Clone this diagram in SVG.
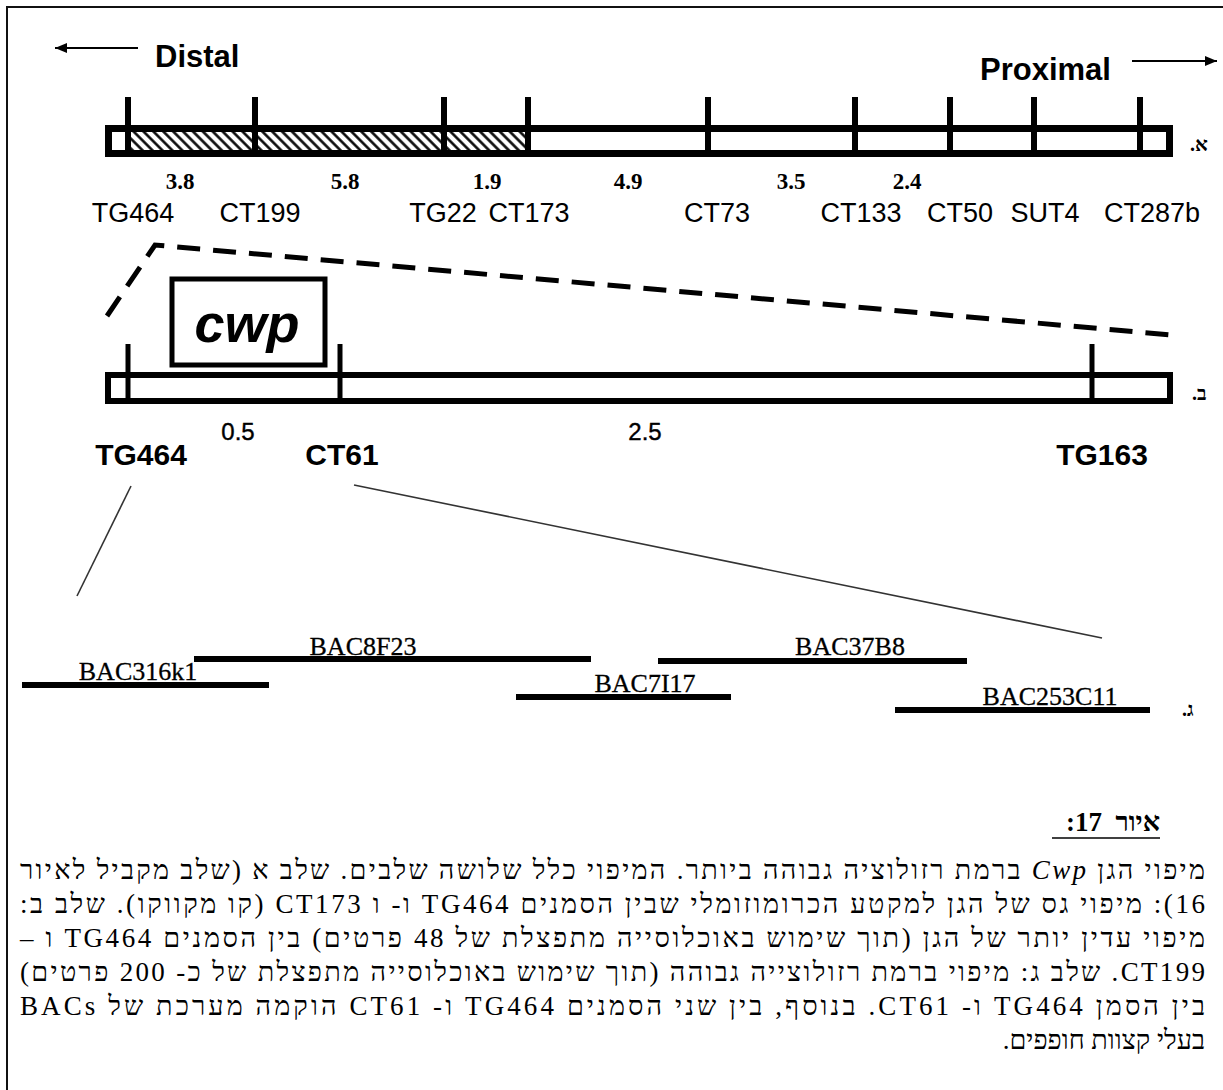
<svg xmlns="http://www.w3.org/2000/svg" width="1223" height="1090" viewBox="0 0 1223 1090">
<style>
.bar{fill:none;stroke:#000;stroke-width:7}
.barb{fill:none;stroke:#000;stroke-width:6}
.tick{stroke:#000;stroke-width:6}
.tickb{stroke:#000;stroke-width:5}
.mk{font-family:"Liberation Sans",Arial,sans-serif;font-size:27px;text-anchor:middle;fill:#000}
.mkb{font-family:"Liberation Sans",Arial,sans-serif;font-size:30px;font-weight:bold;text-anchor:middle;fill:#000}
.dir{font-family:"Liberation Sans",Arial,sans-serif;font-size:31px;font-weight:bold;fill:#000}
.dist{font-family:"Liberation Serif","Times New Roman",serif;font-size:23px;font-weight:bold;text-anchor:middle;fill:#000}
.distb{font-family:"Liberation Sans",Arial,sans-serif;font-size:24px;text-anchor:middle;fill:#000;stroke:#000;stroke-width:0.4}
.bac{stroke:#000;stroke-width:6}
.bact{font-family:"Liberation Serif","Times New Roman",serif;font-size:26px;text-anchor:middle;fill:#000;stroke:#000;stroke-width:0.3}
.lbl{font-family:"Liberation Serif","DejaVu Serif",serif;font-size:20px;font-weight:bold;fill:#000}
.heb{font-family:"Liberation Serif","DejaVu Serif",serif;font-size:27px;direction:rtl;unicode-bidi:embed;text-anchor:start;fill:#000}
.arrow{stroke:#000;stroke-width:2;fill:none}
.thin{stroke:#333;stroke-width:1.6;fill:none}
.dash{stroke:#000;stroke-width:5;fill:none;stroke-dasharray:23 13}
</style>
<defs>
<marker id="ah" viewBox="0 0 12 10" refX="12" refY="5" markerWidth="12" markerHeight="10" markerUnits="userSpaceOnUse" orient="auto">
<path d="M0,0 L12,5 L0,10 z" fill="#000"/>
</marker>
<pattern id="hatch" patternUnits="userSpaceOnUse" width="7" height="7" patternTransform="rotate(-45)">
<line x1="1.5" y1="-1" x2="1.5" y2="8" stroke="#000" stroke-width="2.5"/>
</pattern>
</defs>
<rect width="1223" height="1090" fill="#fff"/>
<path d="M1223,7 H7 V1090" fill="none" stroke="#111" stroke-width="2"/>

<g id="orientation">
<line class="arrow" x1="138" y1="48" x2="55" y2="48" marker-end="url(#ah)"/>
<text class="dir" x="155" y="67">Distal</text>
<text class="dir" x="980" y="80">Proximal</text>
<line class="arrow" x1="1132" y1="61" x2="1217" y2="61" marker-end="url(#ah)"/>
</g>

<g id="map-a">
<rect x="128" y="131" width="400" height="20" fill="url(#hatch)"/>
<rect class="bar" x="108.5" y="128.5" width="1061" height="25"/>
<g id="ticks-a">
<line class="tick" x1="128" y1="97" x2="128" y2="154"/>
<line class="tick" x1="255" y1="97" x2="255" y2="154"/>
<line class="tick" x1="444" y1="97" x2="444" y2="154"/>
<line class="tick" x1="528" y1="97" x2="528" y2="154"/>
<line class="tick" x1="708" y1="97" x2="708" y2="154"/>
<line class="tick" x1="855" y1="97" x2="855" y2="154"/>
<line class="tick" x1="950" y1="97" x2="950" y2="154"/>
<line class="tick" x1="1034" y1="97" x2="1034" y2="154"/>
<line class="tick" x1="1140" y1="97" x2="1140" y2="154"/>
</g>
<text class="lbl" x="1190" y="151">.א</text>
<g id="dist-a">
<text class="dist" x="180" y="189">3.8</text>
<text class="dist" x="345" y="189">5.8</text>
<text class="dist" x="487" y="189">1.9</text>
<text class="dist" x="628" y="189">4.9</text>
<text class="dist" x="791" y="189">3.5</text>
<text class="dist" x="907" y="189">2.4</text>
</g>
<g id="markers-a">
<text class="mk" x="133" y="222">TG464</text>
<text class="mk" x="260" y="222">CT199</text>
<text class="mk" x="443" y="222">TG22</text>
<text class="mk" x="529" y="222">CT173</text>
<text class="mk" x="717" y="222">CT73</text>
<text class="mk" x="861" y="222">CT133</text>
<text class="mk" x="960" y="222">CT50</text>
<text class="mk" x="1045" y="222">SUT4</text>
<text class="mk" x="1152" y="222">CT287b</text>
</g>
</g>

<g id="connectors">
<polyline class="dash" points="107,316 155,245 1172,335"/>
<line class="thin" x1="131" y1="486" x2="77" y2="596"/>
<line class="thin" x1="354" y1="485" x2="1102" y2="638"/>
</g>

<g id="cwp">
<rect x="172" y="279" width="153" height="86" fill="none" stroke="#000" stroke-width="5"/>
<text x="247" y="342" font-family="'Liberation Sans',Arial,sans-serif" font-size="54" font-weight="bold" font-style="italic" text-anchor="middle">cwp</text>
</g>

<g id="map-b">
<rect class="barb" x="108" y="375" width="1062" height="26"/>
<line class="tickb" x1="128" y1="344" x2="128" y2="402"/>
<line class="tickb" x1="340" y1="344" x2="340" y2="402"/>
<line class="tickb" x1="1092" y1="344" x2="1092" y2="402"/>
<text class="lbl" x="1192" y="400">.ב</text>
<text class="distb" x="238" y="440">0.5</text>
<text class="distb" x="645" y="440">2.5</text>
<text class="mkb" x="141" y="465">TG464</text>
<text class="mkb" x="342" y="465">CT61</text>
<text class="mkb" x="1102" y="465">TG163</text>
</g>

<g id="bac-contig">
<g id="BAC316k1"><line class="bac" x1="22" y1="685" x2="269" y2="685"/><text class="bact" x="138" y="680">BAC316k1</text></g>
<g id="BAC8F23"><line class="bac" x1="194" y1="659" x2="591" y2="659"/><text class="bact" x="363" y="655">BAC8F23</text></g>
<g id="BAC7I17"><line class="bac" x1="516" y1="697" x2="731" y2="697"/><text class="bact" x="645" y="692">BAC7I17</text></g>
<g id="BAC37B8"><line class="bac" x1="658" y1="661" x2="967" y2="661"/><text class="bact" x="850" y="655">BAC37B8</text></g>
<g id="BAC253C11"><line class="bac" x1="895" y1="710" x2="1150" y2="710"/><text class="bact" x="1050" y="705">BAC253C11</text></g>
<text class="lbl" x="1182" y="716">.ג</text>
</g>

<g id="caption">
<text class="heb" x="1160" y="831" font-size="30" font-weight="bold" xml:space="preserve">איור  17:</text>
<line x1="1052" y1="838" x2="1160" y2="838" stroke="#000" stroke-width="1.5"/>
<text class="heb" x="1205" y="879" textLength="1185" lengthAdjust="spacing">מיפוי הגן  <tspan font-style="italic">Cwp</tspan> ברמת רזולוציה גבוהה ביותר. המיפוי כלל שלושה שלבים. שלב א (שלב מקביל לאיור</text>
<text class="heb" x="1205" y="913" textLength="1185" lengthAdjust="spacing">16): מיפוי גס של הגן למקטע הכרומוזומלי שבין הסמנים TG464 ו- ו CT173 (קו מקווקו). שלב ב:</text>
<text class="heb" x="1205" y="947" textLength="1185" lengthAdjust="spacing">מיפוי עדין יותר של הגן (תוך שימוש באוכלוסייה מתפצלת של 48 פרטים) בין הסמנים TG464 ו –</text>
<text class="heb" x="1205" y="981" textLength="1185" lengthAdjust="spacing">CT199. שלב ג: מיפוי ברמת רזולוצייה גבוהה (תוך שימוש באוכלוסייה מתפצלת של כ- 200 פרטים)</text>
<text class="heb" x="1205" y="1015" textLength="1185" lengthAdjust="spacing">בין הסמן TG464 ו- CT61. בנוסף, בין שני הסמנים  TG464 ו- CT61 הוקמה מערכת של BACs</text>
<text class="heb" x="1205" y="1049">בעלי קצוות חופפים.</text>
</g>
</svg>
